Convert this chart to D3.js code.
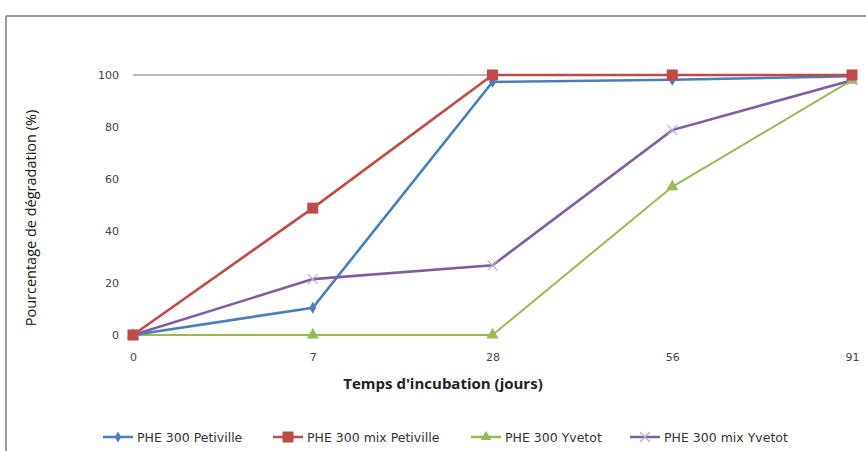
<!DOCTYPE html>
<html><head><meta charset="utf-8">
<script src="https://cdn.jsdelivr.net/npm/d3@7"></script>
<style>body{margin:0;background:#fff}svg{display:block}</style>
</head><body>
<script>
const days = ["0","7","28","56","91"];
const yTicks = [0,20,40,60,80,100];
const petiville = [0,10.5,97.3,98.2,99.5];
const mixPetiville = [0,48.8,100,100,100];
const yvetot = [0,0,0,57,98];
const mixYvetot = [0,21.5,26.8,78.8,98];
const seriesNames = ["PHE 300 Petiville","PHE 300 mix Petiville","PHE 300 Yvetot","PHE 300 mix Yvetot"];
const seriesColors = ["#4a7ebb","#be4b48","#98b954","#7d5fa0"];
const seriesShapes = ["diamond","square","triangle","x"];
const seriesValues = [petiville, mixPetiville, yvetot, mixYvetot];

const W=866,H=451;
const svg=d3.select("body").append("svg").attr("width",W).attr("height",H);
svg.append("rect").attr("width",W).attr("height",H).attr("fill","#fff");
// frame
svg.append("line").attr("x1",6).attr("x2",W).attr("y1",16).attr("y2",16).attr("stroke","#999").attr("stroke-width",2);
svg.append("line").attr("x1",6).attr("x2",6).attr("y1",16).attr("y2",H).attr("stroke","#999").attr("stroke-width",2);

const x=d3.scalePoint().domain(days).range([133,852]);
const y=d3.scaleLinear().domain([0,100]).range([335,75]);

// top gridline
svg.append("line").attr("x1",133).attr("x2",852).attr("y1",y(100)).attr("y2",y(100)).attr("stroke","#777").attr("stroke-width",1);

const yAxis=svg.append("g").attr("transform","translate(133,0)").call(d3.axisLeft(y).tickValues(yTicks).tickSize(0).tickPadding(14));
yAxis.select(".domain").remove();
yAxis.selectAll("text").attr("font-family","'DejaVu Sans', sans-serif").attr("font-size",11).attr("fill","#444");

const xAxis=svg.append("g").attr("transform","translate(0,335)").call(d3.axisBottom(x).tickSize(0).tickPadding(18));
xAxis.select(".domain").remove();
xAxis.selectAll("text").attr("font-family","'DejaVu Sans', sans-serif").attr("font-size",11).attr("fill","#444");

svg.append("text").attr("x",443).attr("y",389).attr("text-anchor","middle")
 .attr("font-family","'Open Sans', sans-serif").attr("font-weight","bold").attr("font-size",15).attr("fill","#222")
 .text("Temps d'incubation  (jours)");
svg.append("text").attr("transform","translate(36,218) rotate(-90)").attr("text-anchor","middle")
 .attr("font-family","'Open Sans', sans-serif").attr("font-size",14.5).attr("fill","#111")
 .text("Pourcentage de dégradation (%)");

function marker(g,shape,color,cx,cy,s){
  if(shape==="diamond"){
    g.append("path").attr("d",d3.symbol(d3.symbolDiamond,s*7)()).attr("transform",`translate(${cx},${cy})`).attr("fill",color);
  } else if(shape==="square"){
    g.append("rect").attr("x",cx-5.5).attr("y",cy-5.5).attr("width",11).attr("height",11).attr("fill",color);
  } else if(shape==="triangle"){
    g.append("path").attr("d",d3.symbol(d3.symbolTriangle,s*7)()).attr("transform",`translate(${cx},${cy})`).attr("fill",color);
  } else {
    g.append("path").attr("d",`M${cx-5},${cy-5}L${cx+5},${cy+5}M${cx-5},${cy+5}L${cx+5},${cy-5}`).attr("stroke","#b9a8d0").attr("stroke-width",1.2);
  }
}

const line=d3.line().x((d,i)=>x(days[i])).y(d=>y(d));
const order=[2,0,3,1];
order.forEach(k=>{
  const g=svg.append("g");
  g.append("path").datum(seriesValues[k]).attr("d",line).attr("fill","none").attr("stroke",seriesColors[k]).attr("stroke-width",k===2?2:2.6);
});
order.forEach(k=>{
  const g=svg.append("g");
  seriesValues[k].forEach((v,i)=>marker(g,seriesShapes[k],seriesColors[k],x(days[i]),y(v),k===0?6:9));
});

// legend
const legX=[103,273,471,630];
seriesNames.forEach((n,k)=>{
  const g=svg.append("g");
  const ly=437;
  g.append("line").attr("x1",legX[k]).attr("x2",legX[k]+30).attr("y1",ly).attr("y2",ly).attr("stroke",seriesColors[k]).attr("stroke-width",2.5);
  marker(g,seriesShapes[k],seriesColors[k],legX[k]+15,ly,k===0?5:7);
  g.append("text").attr("x",legX[k]+34).attr("y",ly+4.5).attr("font-family","'DejaVu Sans', sans-serif").attr("font-size",12.5).attr("fill","#333").text(n);
});
</script>
</body></html>
